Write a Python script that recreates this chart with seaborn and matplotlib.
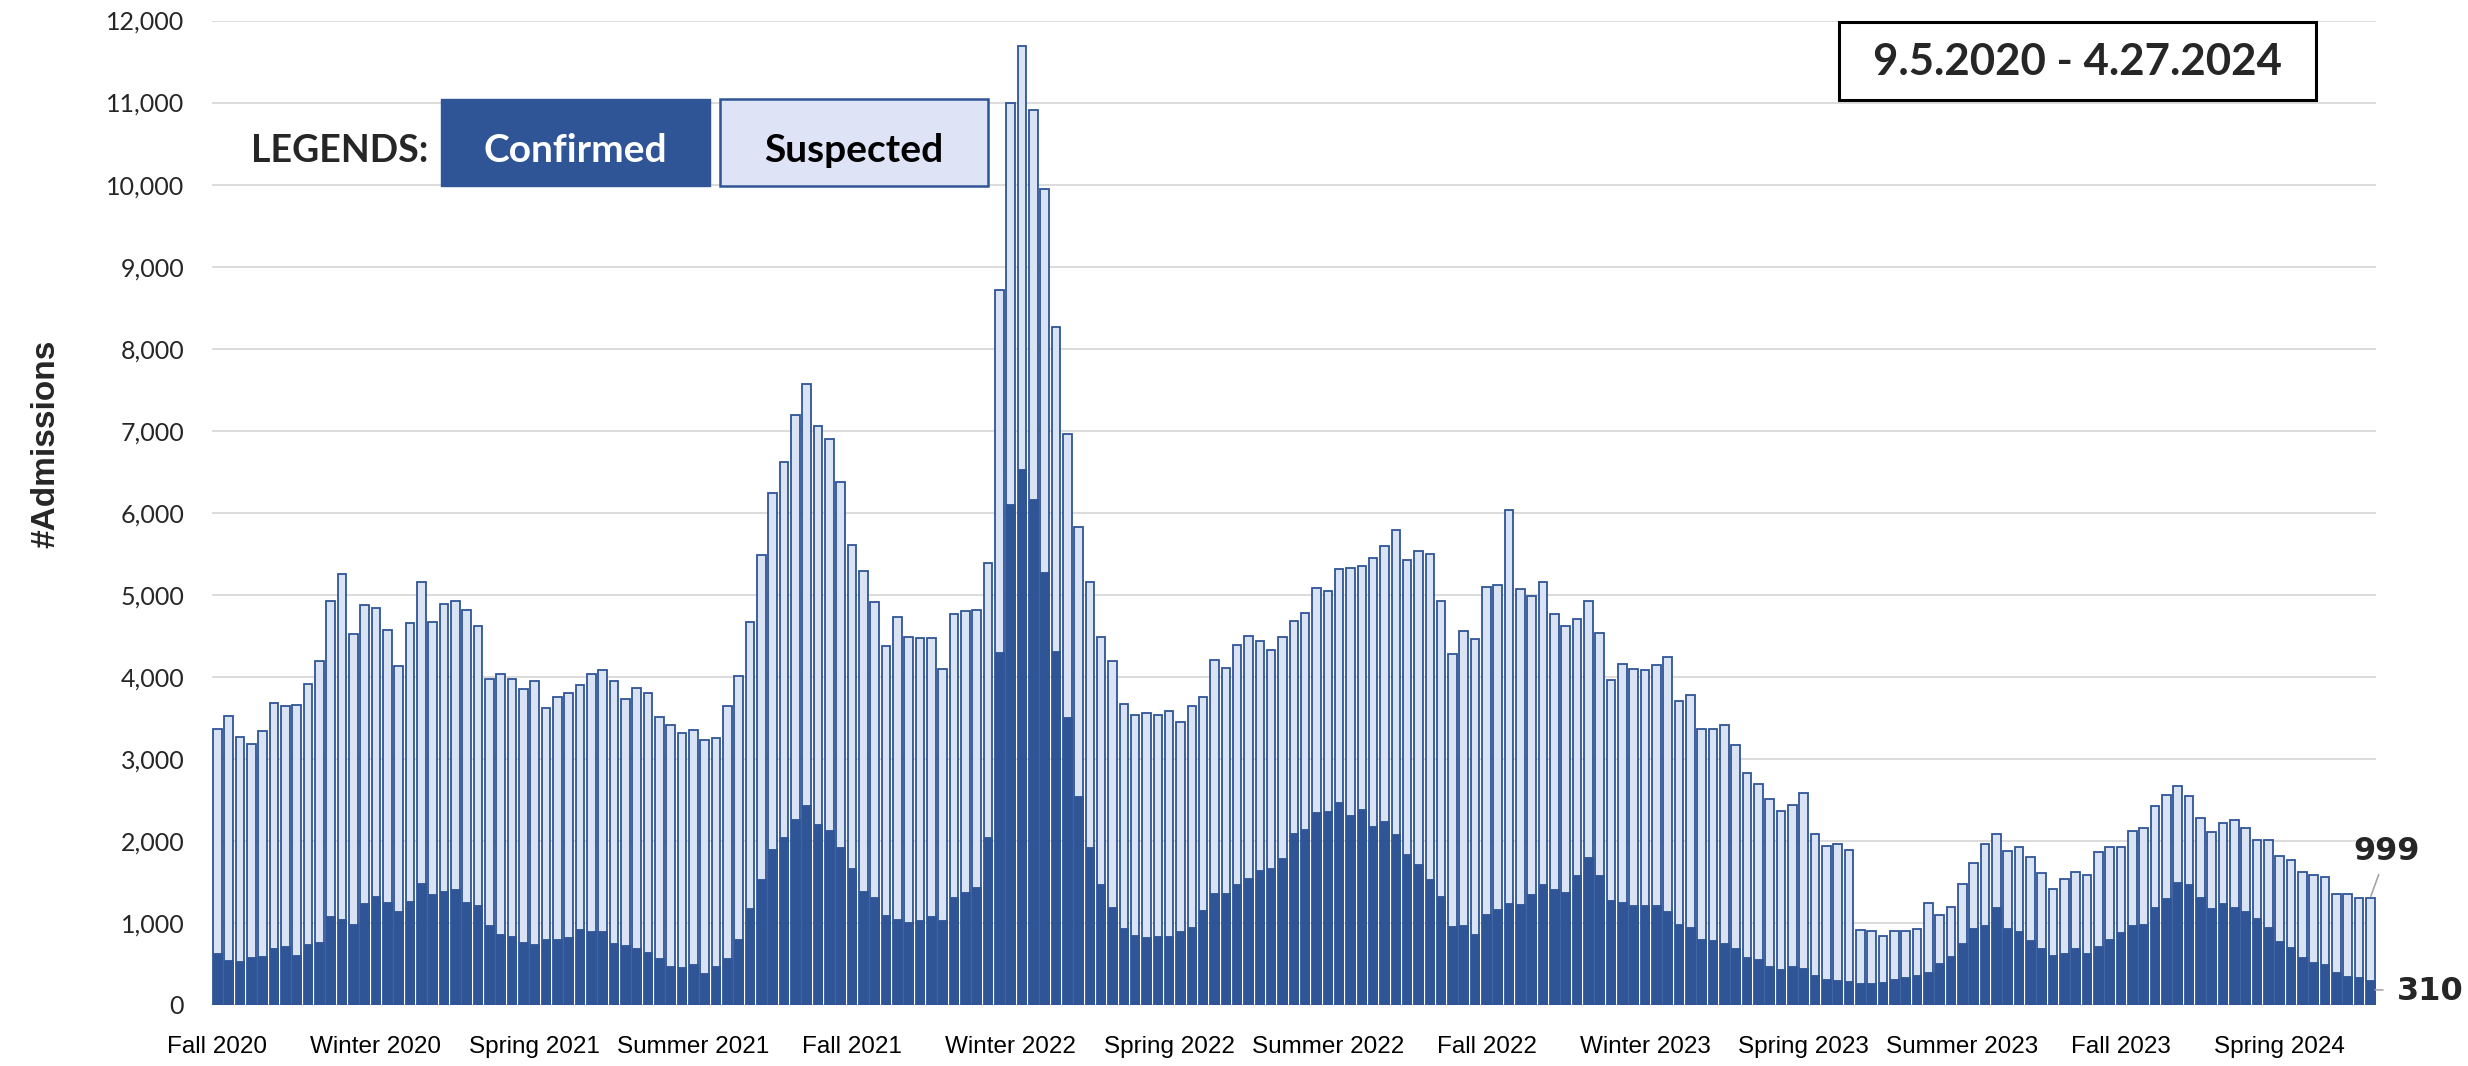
import numpy as np
import pandas as pd
import seaborn as sns
import matplotlib.pyplot as plt
from matplotlib.patches import Rectangle
from matplotlib.ticker import FuncFormatter

# weekly admissions, 9.5.2020 - 4.27.2024
total = [3360, 3520, 3270, 3180, 3340, 3680, 3650, 3660, 3910, 4190,
         4920, 5250, 4520, 4880, 4840, 4570, 4130, 4660, 5150, 4670,
         4890, 4930, 4810, 4620, 3970, 4030, 3970, 3850, 3950, 3620,
         3750, 3800, 3900, 4030, 4080, 3950, 3730, 3860, 3800, 3510,
         3410, 3310, 3350, 3230, 3260, 3650, 4010, 4670, 5480, 6240,
         6620, 7190, 7570, 7060, 6900, 6370, 5610, 5290, 4910, 4370,
         4730, 4480, 4470, 4470, 4090, 4770, 4800, 4820, 5390, 8720,
         10990, 11690, 10910, 9950, 8270, 6960, 5830, 5150, 4490, 4190,
         3670, 3530, 3560, 3540, 3580, 3450, 3640, 3750, 4210, 4110,
         4390, 4500, 4440, 4330, 4480, 4680, 4780, 5080, 5050, 5320,
         5330, 5350, 5450, 5590, 5790, 5430, 5530, 5500, 4920, 4280,
         4560, 4460, 5100, 5120, 6030, 5070, 4980, 5160, 4770, 4620,
         4700, 4930, 4530, 3960, 4160, 4090, 4080, 4140, 4240, 3700,
         3780, 3370, 3360, 3410, 3170, 2830, 2690, 2510, 2370, 2440,
         2590, 2080, 1940, 1960, 1890, 920, 900, 840, 900, 900,
         930, 1240, 1100, 1190, 1470, 1730, 1960, 2080, 1880, 1930,
         1800, 1610, 1420, 1530, 1620, 1580, 1870, 1930, 1930, 2120,
         2160, 2430, 2560, 2670, 2550, 2280, 2110, 2220, 2250, 2160,
         2010, 2010, 1820, 1770, 1620, 1590, 1560, 1350, 1350, 1310,
         1309]

confirmed = [630, 550, 540, 590, 600, 700, 720, 610, 740, 770,
             1090, 1050, 990, 1240, 1330, 1250, 1150, 1270, 1490, 1350,
             1390, 1410, 1260, 1220, 980, 860, 840, 770, 740, 810,
             800, 830, 930, 900, 900, 760, 730, 690, 640, 570,
             470, 460, 500, 390, 470, 570, 800, 1180, 1530, 1900,
             2050, 2270, 2440, 2210, 2130, 1920, 1670, 1390, 1320, 1100,
             1050, 1010, 1040, 1090, 1040, 1320, 1380, 1440, 2050, 4300,
             6110, 6530, 6170, 5280, 4320, 3510, 2550, 1920, 1480, 1200,
             940, 850, 830, 840, 840, 900, 950, 1160, 1360, 1360,
             1480, 1550, 1650, 1670, 1790, 2100, 2140, 2350, 2360, 2470,
             2310, 2390, 2180, 2240, 2080, 1840, 1720, 1540, 1330, 960,
             980, 860, 1110, 1170, 1240, 1230, 1350, 1480, 1420, 1380,
             1580, 1800, 1590, 1280, 1250, 1220, 1220, 1220, 1150, 990,
             950, 810, 790, 750, 700, 580, 560, 470, 440, 470,
             450, 370, 320, 310, 290, 270, 270, 280, 320, 340,
             360, 400, 510, 600, 750, 940, 980, 1200, 940, 900,
             790, 700, 610, 630, 700, 630, 720, 810, 890, 980,
             990, 1200, 1310, 1500, 1470, 1320, 1180, 1240, 1200, 1140,
             1060, 950, 780, 710, 590, 530, 500, 400, 350, 340,
             310]

season_labels = ["Fall 2020", "Winter 2020", "Spring 2021", "Summer 2021",
                 "Fall 2021", "Winter 2022", "Spring 2022", "Summer 2022",
                 "Fall 2022", "Winter 2023", "Spring 2023", "Summer 2023",
                 "Fall 2023", "Spring 2024"]
label_step = 14
date_range = "9.5.2020 - 4.27.2024"

df = pd.DataFrame({"week": np.arange(len(total)), "total": total, "confirmed": confirmed})
df["suspected"] = df["total"] - df["confirmed"]

DARK = "#2F5597"
LIGHT = "#DAE3F3"
CAL = ["Lato", "DejaVu Sans"]   # closest thing to Calibri here

sns.set_style("white")
plt.rcParams["font.family"] = ["Liberation Sans", "DejaVu Sans"]

W, H = 2468, 1066
fig = plt.figure(figsize=(W / 100, H / 100), dpi=100)
ax = fig.add_axes([212 / W, 1 - 1005 / H, (2376 - 212) / W, (1005 - 20.5) / H])

sns.barplot(data=df, x="week", y="total", color=LIGHT, saturation=1, width=0.76,
            edgecolor=DARK, linewidth=1.3, errorbar=None, ax=ax)
sns.barplot(data=df, x="week", y="confirmed", color=DARK, saturation=1, width=0.76,
            edgecolor=DARK, linewidth=0.6, errorbar=None, ax=ax)

ax.set_ylim(0, 12000)
ax.set_xlim(-0.47, len(total) - 0.5)
ax.set_yticks(np.arange(0, 12001, 1000))
ax.yaxis.set_major_formatter(FuncFormatter(lambda v, p: f"{v:,.0f}"))
ax.yaxis.grid(True, color="#D9D9D9", linewidth=1.3)
ax.set_axisbelow(True)
for s in ax.spines.values():
    s.set_visible(False)

ax.set_xticks(np.arange(0, len(total), label_step)[:len(season_labels)])
ax.set_xticklabels(season_labels, fontsize=17.5, color="black")
ax.tick_params(axis="x", length=0, pad=22)
ax.tick_params(axis="y", length=0, pad=20)
for t in ax.get_yticklabels():
    t.set_family(CAL)
    t.set_fontsize(18)
ax.set_xlabel("")
ax.set_ylabel("")

fig.text(46 / W, 1 - 444 / H, "#Admissions", rotation=90, fontsize=24,
         fontweight="bold", ha="center", va="center")

# last-week callouts
last = len(total) - 1
ax.annotate(f"{df['suspected'].iloc[-1]:,}", xy=(last, total[-1]), xytext=(12, 33),
            textcoords="offset points", ha="center", va="center", fontsize=23,
            fontweight="bold", family="DejaVu Sans", annotation_clip=False,
            arrowprops=dict(arrowstyle="-", color="#A6A6A6", lw=1.2, shrinkA=3, shrinkB=1))
ax.annotate(f"{confirmed[-1]:,}", xy=(last + 0.3, confirmed[-1] * 0.6), xytext=(41, -1),
            textcoords="offset points", ha="center", va="center", fontsize=23,
            fontweight="bold", family="DejaVu Sans", annotation_clip=False,
            arrowprops=dict(arrowstyle="-", color="#A6A6A6", lw=1.2, shrinkA=8, shrinkB=1))

# date box
fig.add_artist(Rectangle((1839 / W, 1 - 100 / H), (2316 - 1839) / W, 78 / H,
                         transform=fig.transFigure, facecolor="white",
                         edgecolor="black", linewidth=2.2))
fig.text(2077 / W, 1 - 62 / H, date_range, fontsize=31.5, fontweight="bold",
         family=CAL, ha="center", va="center")

# hand-made legend
fig.text(428 / W, 1 - 151 / H, "LEGENDS:", fontsize=27, fontweight="bold",
         family=CAL, ha="right", va="center")
fig.add_artist(Rectangle((441 / W, 1 - 186 / H), (710 - 441) / W, 87 / H,
                         transform=fig.transFigure, facecolor=DARK, edgecolor=DARK,
                         linewidth=1))
fig.text(575 / W, 1 - 150 / H, "Confirmed", fontsize=28, fontweight="bold",
         family=CAL, color="white", ha="center", va="center")
fig.add_artist(Rectangle((720 / W, 1 - 186 / H), (988 - 720) / W, 87 / H,
                         transform=fig.transFigure, facecolor="#DEE4F6", edgecolor=DARK,
                         linewidth=1.8))
fig.text(854 / W, 1 - 150 / H, "Suspected", fontsize=28, fontweight="bold",
         family=CAL, color="black", ha="center", va="center")

fig.savefig("out.png", dpi=100)
